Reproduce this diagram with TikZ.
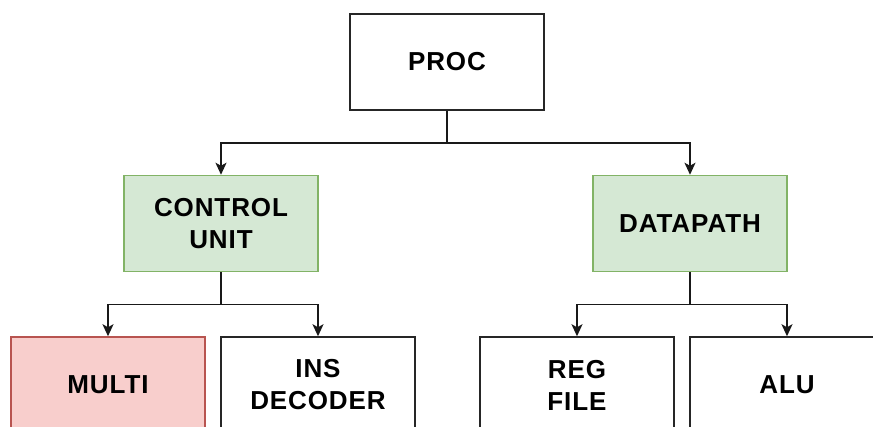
\documentclass[tikz,border=0pt]{standalone}
\usepackage{fontspec}
\setmainfont[LetterSpace=3.5]{Liberation Sans}
\usetikzlibrary{arrows.meta}
\begin{document}
\begin{tikzpicture}[x=1pt,y=-1pt,
  box/.style={draw=black!85,line width=1.5pt,minimum width=194pt,minimum height=96pt,
    inner sep=0pt,align=center,font=\fontsize{26}{32}\selectfont\bfseries},
  green box/.style={box,fill={rgb,255:red,213;green,232;blue,212},draw={rgb,255:red,130;green,179;blue,102}},
  red box/.style={box,fill={rgb,255:red,248;green,206;blue,204},draw={rgb,255:red,184;green,84;blue,80}},
  link/.style={line width=1.5pt,draw=black!90,-{Stealth[length=12pt,width=11pt,inset=3pt]}},
  ]
\useasboundingbox (0,0) rectangle (873,427);
\clip (0,0) rectangle (873,427);
\fill[white] (0,0) rectangle (873,427);

% tree levels
\node[box]       (proc) at (447,62)  {PROC};
\node[green box] (cu)   at (221,223.5) {CONTROL\\UNIT};
\node[green box] (dp)   at (690,223.5) {DATAPATH};
\node[red box]   (mul)  at (108,385) {MULTI};
\node[box]       (dec)  at (318,385) {INS\\DECODER};
\node[box]       (reg)  at (577,385) {REG\\FILE};
\node[box]       (alu)  at (787,385) {ALU};

% orthogonal connectors
\draw[link] (proc.south) |- ++(0,32.5) -| (cu.north);
\draw[link] (proc.south) |- ++(0,32.5) -| (dp.north);
\draw[link] (cu.south) |- ++(0,32.5) -| (mul.north);
\draw[link] (cu.south) |- ++(0,32.5) -| (dec.north);
\draw[link] (dp.south) |- ++(0,32.5) -| (reg.north);
\draw[link] (dp.south) |- ++(0,32.5) -| (alu.north);
\end{tikzpicture}
\end{document}
